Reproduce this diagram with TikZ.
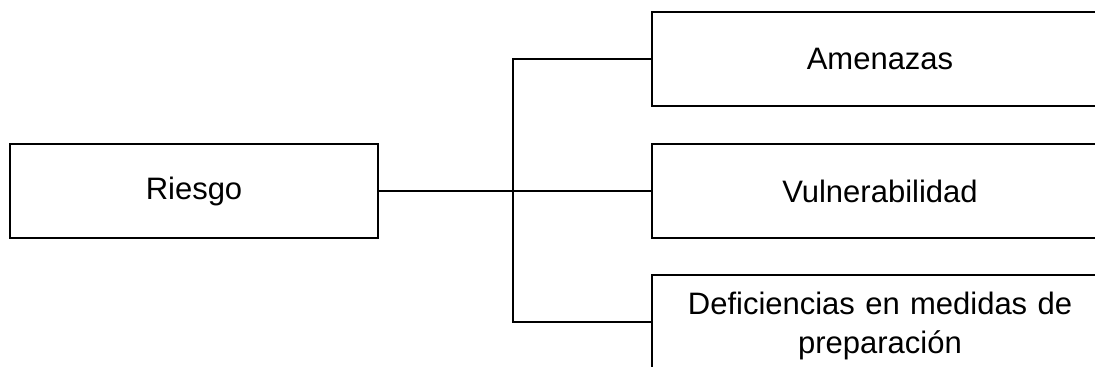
\documentclass[tikz,border=0pt]{standalone}
\usepackage{fontspec}
\setmainfont{Liberation Sans}
\usetikzlibrary{positioning}

\begin{document}
\begin{tikzpicture}[
		x=0.5pt,y=-0.5pt,
		caja/.style={draw,line width=1.3pt,rectangle,inner sep=0pt,align=center,
			font=\fontsize{15.5}{19.5}\selectfont},
		izq/.style={caja,minimum width=184pt,minimum height=47pt},
		der/.style={caja,minimum width=228pt,minimum height=47pt,text width=212pt},
		con/.style={line width=1.3pt}
		]
		% ===== Frame =====
		\useasboundingbox (0,0) rectangle (1095,367);
		% ===== Boxes =====
		\node[izq] (riesgo) at (194,191) {Riesgo};
		\node[der] (amenazas) at (880,59) {Amenazas};
		\node[der] (vulnera) at (880,191) {Vulnerabilidad};
		\node[der] (deficien) at (880,322) {\rule{0pt}{15pt}Deficiencias en medidas de\\preparación};
		% ===== Connectors =====
		\coordinate (bus) at (513,191);
		\draw[con] (riesgo.east) -- (vulnera.west);
		\draw[con] (amenazas.west) -| (bus) |- (deficien.west);
	\end{tikzpicture}
\end{document}
